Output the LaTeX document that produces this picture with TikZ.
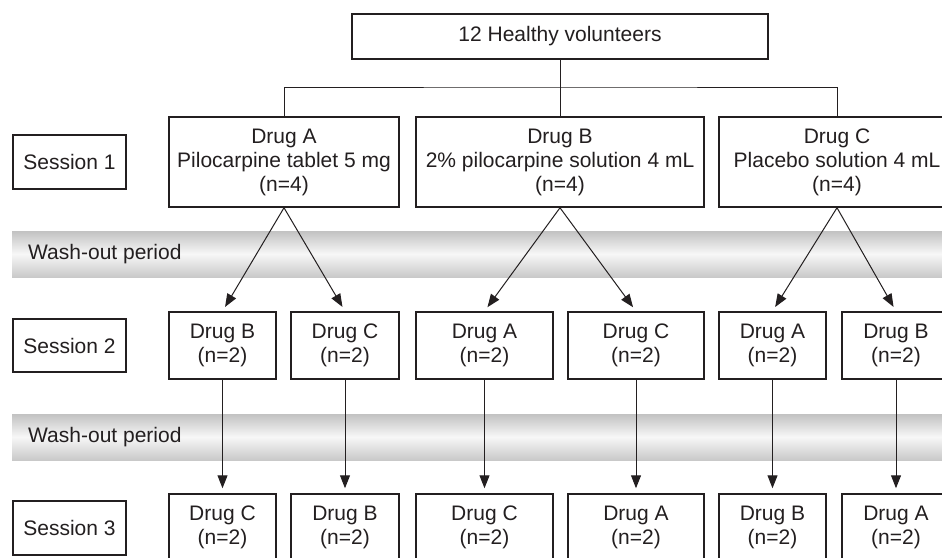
\documentclass[tikz,border=0pt]{standalone}
\usepackage{fontspec}
\setmainfont{Liberation Sans}
\usetikzlibrary{arrows.meta}
\definecolor{ink}{HTML}{231F20}
\tikzset{
  box/.style={draw=ink, line width=1.5pt, fill=white, align=center, inner sep=0pt,
    text=ink, font=\fontsize{21}{24}\selectfont},
  conn/.style={draw=ink, line width=1pt},
  arr/.style={draw=ink, line width=1pt, -{Triangle[length=13pt,width=10pt]}, shorten >=5pt},
  band/.style={top color=gray!48, bottom color=gray!42, middle color=gray!6, draw=none},
  bandtext/.style={anchor=west, text=ink, font=\fontsize{21}{24}\selectfont, inner sep=0pt}
}
\begin{document}
\begin{tikzpicture}[x=1pt,y=-1pt]
\useasboundingbox (0,0) rectangle (942,557);
\fill[white] (0,0) rectangle (942,557);
\begin{scope}
\clip (0,0) rectangle (942,557);
% wash-out bands
\shade[band] (12,231) rectangle (960,277);
\shade[band] (12,414) rectangle (960,460);
\node[bandtext] (w1) at (28,254) {Wash-out period};
\node[bandtext] (w2) at (28,437) {Wash-out period};

% top
\node[box, minimum width=416pt, minimum height=45pt] (top) at (560,36.5) {12 Healthy volunteers};

% session labels
\node[box, minimum width=113pt, minimum height=54pt] (s1) at (69.5,162) {Session 1};
\node[box, minimum width=113pt, minimum height=53pt] (s2) at (69.5,345.5) {Session 2};
\node[box, minimum width=113pt, minimum height=54pt] (s3) at (69.5,528) {Session 3};

% session 1
\node[box, minimum width=230pt, minimum height=90pt] (a1) at (284,162) {Drug A\\Pilocarpine tablet 5 mg\\(n=4)};
\node[box, minimum width=288pt, minimum height=90pt] (b1) at (560,162) {Drug B\\2\% pilocarpine solution 4 mL\\(n=4)};
\node[box, minimum width=236pt, minimum height=90pt] (c1) at (837,162) {Drug C\\Placebo solution 4 mL\\(n=4)};

% session 2
\node[box, minimum width=107pt, minimum height=67pt] (p1) at (222.5,345.5) {Drug B\\(n=2)};
\node[box, minimum width=108pt, minimum height=67pt] (p2) at (345,345.5) {Drug C\\(n=2)};
\node[box, minimum width=137pt, minimum height=67pt] (p3) at (484.5,345.5) {Drug A\\(n=2)};
\node[box, minimum width=136pt, minimum height=67pt] (p4) at (636,345.5) {Drug C\\(n=2)};
\node[box, minimum width=107pt, minimum height=67pt] (p5) at (772.5,345.5) {Drug A\\(n=2)};
\node[box, minimum width=108pt, minimum height=67pt] (p6) at (896,345.5) {Drug B\\(n=2)};

% session 3
\node[box, minimum width=107pt, minimum height=67pt] (q1) at (222.5,527.5) {Drug C\\(n=2)};
\node[box, minimum width=108pt, minimum height=67pt] (q2) at (345,527.5) {Drug B\\(n=2)};
\node[box, minimum width=137pt, minimum height=67pt] (q3) at (484.5,527.5) {Drug C\\(n=2)};
\node[box, minimum width=136pt, minimum height=67pt] (q4) at (636,527.5) {Drug A\\(n=2)};
\node[box, minimum width=107pt, minimum height=67pt] (q5) at (772.5,527.5) {Drug B\\(n=2)};
\node[box, minimum width=108pt, minimum height=67pt] (q6) at (896,527.5) {Drug A\\(n=2)};

% tree connectors
\coordinate (bar) at (560,87);
\draw[conn] (top.south) -- (bar);
\draw[conn] (a1.north) |- (bar) -| (c1.north);
\draw[conn] (bar) -- (b1.north);

% session1 -> session2
\draw[arr] (a1.south) -- (p1.north);
\draw[arr] (a1.south) -- (p2.north);
\draw[arr] (b1.south) -- (p3.north);
\draw[arr] (b1.south) -- (p4.north);
\draw[arr] (c1.south) -- (p5.north);
\draw[arr] (c1.south) -- (p6.north);

% session2 -> session3
\draw[arr] (p1.south) -- (q1.north);
\draw[arr] (p2.south) -- (q2.north);
\draw[arr] (p3.south) -- (q3.north);
\draw[arr] (p4.south) -- (q4.north);
\draw[arr] (p5.south) -- (q5.north);
\draw[arr] (p6.south) -- (q6.north);
\end{scope}
\end{tikzpicture}
\end{document}
